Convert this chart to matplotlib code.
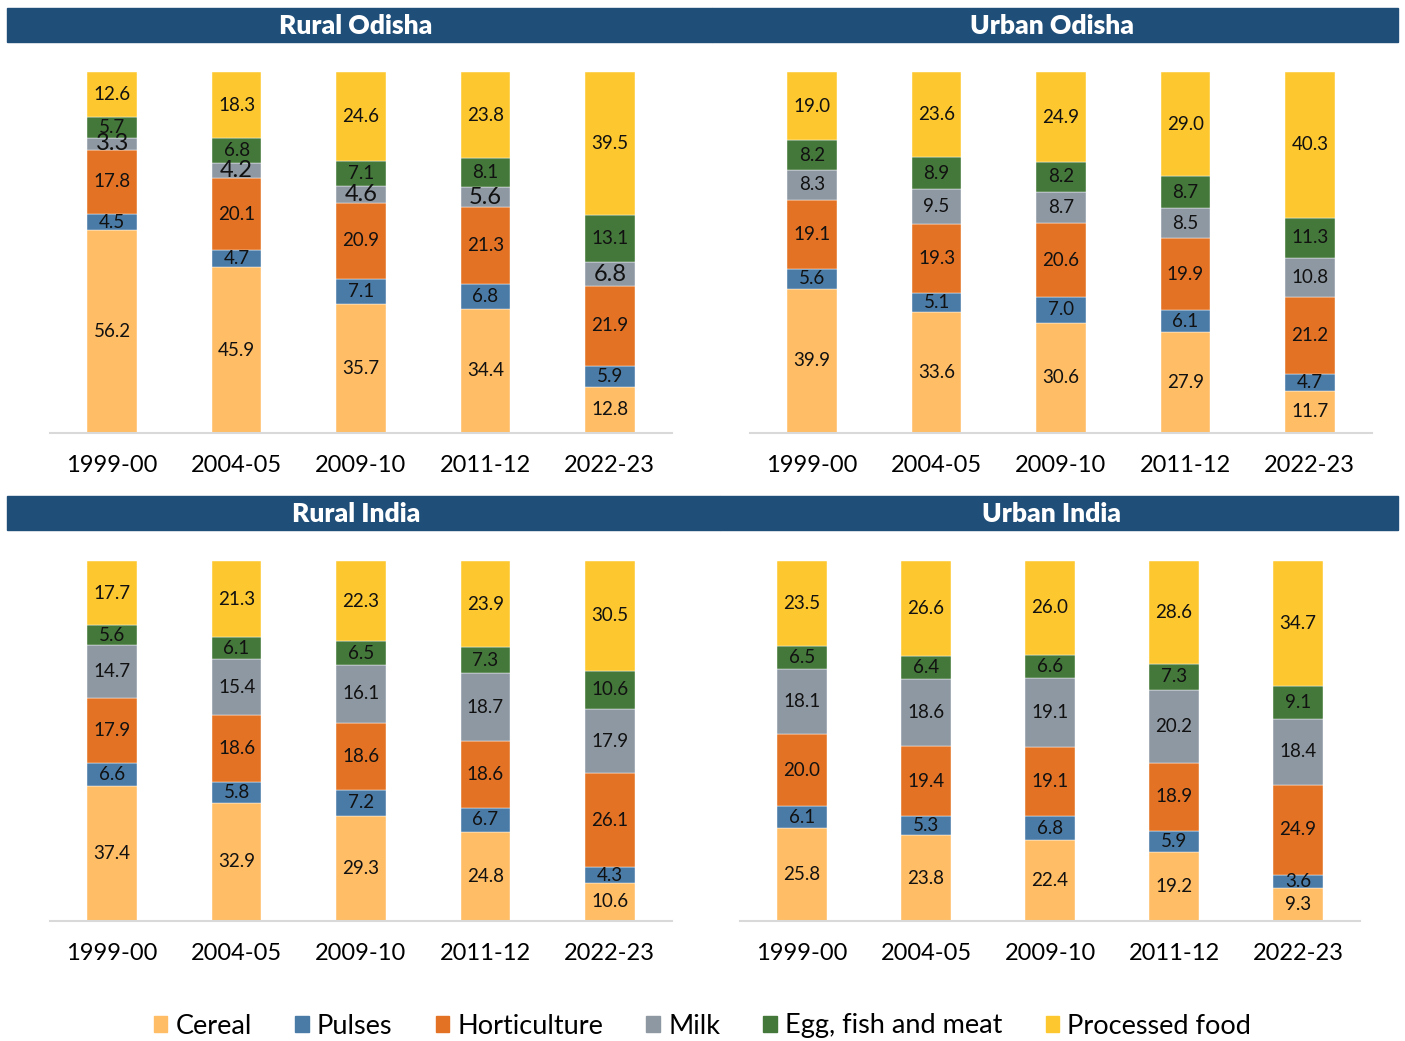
import matplotlib.pyplot as plt
from matplotlib.patches import Rectangle, Patch

plt.rcParams['font.family'] = ['Lato', 'DejaVu Sans']

years = ["1999-00", "2004-05", "2009-10", "2011-12", "2022-23"]
categories = ["Cereal", "Pulses", "Horticulture", "Milk", "Egg, fish and meat", "Processed food"]
colors = ["#FFBD66", "#4A7BA6", "#E37225", "#8E98A3", "#44773A", "#FDC82F"]

# --- shares (%) per panel, one list per category ---
rural_odisha_cereal = [56.2, 45.9, 35.7, 34.4, 12.8]
rural_odisha_pulses = [4.5, 4.7, 7.1, 6.8, 5.9]
rural_odisha_hort = [17.8, 20.1, 20.9, 21.3, 21.9]
rural_odisha_milk = [3.3, 4.2, 4.6, 5.6, 6.8]
rural_odisha_egg = [5.7, 6.8, 7.1, 8.1, 13.1]
rural_odisha_proc = [12.6, 18.3, 24.6, 23.8, 39.5]

urban_odisha_cereal = [39.9, 33.6, 30.6, 27.9, 11.7]
urban_odisha_pulses = [5.6, 5.1, 7.0, 6.1, 4.7]
urban_odisha_hort = [19.1, 19.3, 20.6, 19.9, 21.2]
urban_odisha_milk = [8.3, 9.5, 8.7, 8.5, 10.8]
urban_odisha_egg = [8.2, 8.9, 8.2, 8.7, 11.3]
urban_odisha_proc = [19.0, 23.6, 24.9, 29.0, 40.3]

rural_india_cereal = [37.4, 32.9, 29.3, 24.8, 10.6]
rural_india_pulses = [6.6, 5.8, 7.2, 6.7, 4.3]
rural_india_hort = [17.9, 18.6, 18.6, 18.6, 26.1]
rural_india_milk = [14.7, 15.4, 16.1, 18.7, 17.9]
rural_india_egg = [5.6, 6.1, 6.5, 7.3, 10.6]
rural_india_proc = [17.7, 21.3, 22.3, 23.9, 30.5]

urban_india_cereal = [25.8, 23.8, 22.4, 19.2, 9.3]
urban_india_pulses = [6.1, 5.3, 6.8, 5.9, 3.6]
urban_india_hort = [20.0, 19.4, 19.1, 18.9, 24.9]
urban_india_milk = [18.1, 18.6, 19.1, 20.2, 18.4]
urban_india_egg = [6.5, 6.4, 6.6, 7.3, 9.1]
urban_india_proc = [23.5, 26.6, 26.0, 28.6, 34.7]

panels = [
    ("Rural Odisha", [rural_odisha_cereal, rural_odisha_pulses, rural_odisha_hort,
                      rural_odisha_milk, rural_odisha_egg, rural_odisha_proc]),
    ("Urban Odisha", [urban_odisha_cereal, urban_odisha_pulses, urban_odisha_hort,
                      urban_odisha_milk, urban_odisha_egg, urban_odisha_proc]),
    ("Rural India", [rural_india_cereal, rural_india_pulses, rural_india_hort,
                     rural_india_milk, rural_india_egg, rural_india_proc]),
    ("Urban India", [urban_india_cereal, urban_india_pulses, urban_india_hort,
                     urban_india_milk, urban_india_egg, urban_india_proc]),
]

W, H = 1405, 1041
fig = plt.figure(figsize=(W / 100, H / 100), dpi=100)

# axes rectangles in pixels: (left, right, top, bottom)
ax_px = [(50, 672, 71, 433), (750, 1372, 71, 433),
         (50, 672, 560, 921), (740, 1360, 560, 921)]
# title bands in pixels: (left, right, top, bottom, text centre)
band_px = [(7, 712, 8, 42, 356), (712, 1398, 8, 42, 1052),
           (7, 720, 496, 530, 356), (720, 1398, 496, 530, 1052)]

for i, (title, series) in enumerate(panels):
    l, r, t, b = ax_px[i]
    ax = fig.add_axes([l / W, 1 - b / H, (r - l) / W, (b - t) / H])
    x = range(len(years))
    bottom = [0] * len(years)
    for j, vals in enumerate(series):
        ax.bar(x, vals, width=0.4, bottom=bottom, color=colors[j], edgecolor="white", linewidth=0.3)
        for k, v in enumerate(vals):
            fs = 17 if (i == 0 and j == 3) else 13.5
            ax.text(k, bottom[k] + v / 2, f"{v:.1f}", ha="center", va="center",
                    fontsize=fs, color="#111111")
        bottom = [bb + v for bb, v in zip(bottom, vals)]
    ax.set_xlim(-0.5, 4.5)
    ax.set_ylim(0, 100.3)
    ax.set_xticks(list(x))
    ax.set_xticklabels(years, fontsize=17)
    ax.tick_params(axis="x", length=0, pad=16)
    ax.set_yticks([])
    for s in ["top", "left", "right"]:
        ax.spines[s].set_visible(False)
    ax.spines["bottom"].set_color("#D9D9D9")
    ax.spines["bottom"].set_linewidth(1.5)

    bl, br, bt, bb, tx = band_px[i]
    fig.patches.append(Rectangle((bl / W, 1 - bb / H), (br - bl) / W, (bb - bt) / H,
                                 transform=fig.transFigure, color="#1F4E79", zorder=0))
    fig.text(tx / W, 1 - (bt + bb + 2) / 2 / H, title, ha="center", va="center",
             color="white", fontsize=19, fontweight="heavy")

handles = [Patch(color=c, label=n) for c, n in zip(colors, categories)]
fig.legend(handles=handles, loc="center", bbox_to_anchor=(0.5, 1 - 1026 / H), ncol=6,
           frameon=False, fontsize=19.5, handlelength=0.5, handleheight=0.5,
           handletextpad=0.3, columnspacing=1.6)

fig.savefig("out.png", dpi=100)
